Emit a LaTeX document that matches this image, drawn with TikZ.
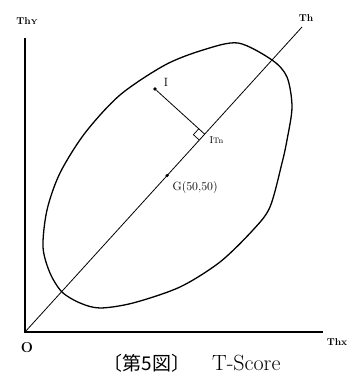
\documentclass[tikz,border=0pt]{standalone}
\usepackage{fontspec}
\newfontfamily\jpfont{Noto Sans CJK JP}
\usetikzlibrary{calc}

\begin{document}
\begin{tikzpicture}[x=1pt,y=1pt,
  axislabel/.style={font=\bfseries},
  dot/.style={circle,fill=black,inner sep=0pt,minimum size=3.6pt}]
  \useasboundingbox (0,0) rectangle (352,378);

  % axes
  \coordinate (O) at (25,46);
  \coordinate (yend) at (25,340);
  \coordinate (xend) at (323,46);
  \draw[line width=1.1pt] (yend) -- (O) -- (xend);
  \node[axislabel] (thy) at (27,357) {Th{\scriptsize Y}};
  \node[axislabel] (thx) at (337,36) {Thx};
  \node[font=\Large\bfseries] (o) at (27,30) {O};

  % diagonal axis Th
  \coordinate (thend) at (302,351);
  \draw[line width=0.8pt] (O) -- (thend);
  \node[axislabel] (th) at (306,360) {Th};

  % boundary of the scores, drawn by hand
  \draw[line width=1.3pt]
    plot[smooth cycle] coordinates {
      (238,335) (272,318) (287,301) (292,271) (287,238) (282,215)
      (270,171) (253,148) (220,116) (180,91) (133,75) (100,70)
      (80,75) (62,86) (50,105) (43,131) (47,168) (60,205) (85,245)
      (120,283) (165,313) (203,328)
    };

  % centre G
  \node[dot] (G) at ($(O)!0.513!(thend)$) {};
  \node[anchor=west,font=\large] (glabel) at (169,190) {G(50,50)};

  % point I and its foot on Th
  \node[dot] (I) at (155,289) {};
  \node[font=\large] (ilabel) at (166,296) {I};
  \coordinate (F) at ($(O)!(I)!(thend)$);
  \draw[line width=0.8pt] (I) -- (F);
  \coordinate (ra) at ($(F)!8pt!(I)$);
  \coordinate (rb) at ($(F)!8pt!(O)$);
  \draw[line width=0.7pt] (ra) -- ($(ra)+(rb)-(F)$) -- (rb);
  \node[anchor=west] (itn) at (206,238) {I{\footnotesize Tn}};

  \node (caption) at (192,15)
    {{\jpfont\fontsize{19}{21}\selectfont 〔第5図〕}\hspace{22pt}%
     {\fontsize{22}{24}\selectfont T-Score}};
\end{tikzpicture}
\end{document}
